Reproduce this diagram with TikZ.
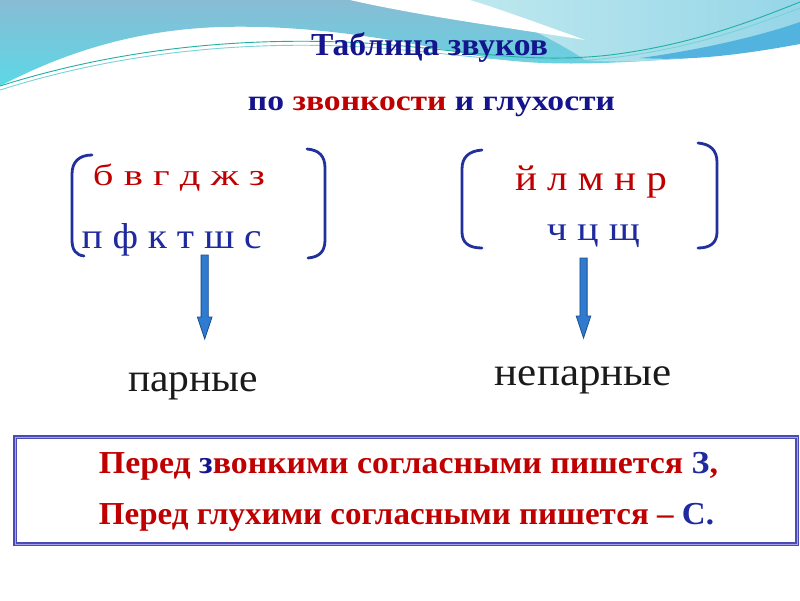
\documentclass[tikz,border=0pt]{standalone}
\usepackage{fontspec}
\setmainfont{Liberation Serif}
\usepackage{graphicx}
\usetikzlibrary{calc}
\definecolor{navy}{HTML}{14148C}
\definecolor{rred}{HTML}{C00000}
\definecolor{lblue}{HTML}{1E2A9E}
\definecolor{brkblue}{HTML}{21309C}
\definecolor{txtgray}{HTML}{1A1A1A}
\definecolor{arrfill}{HTML}{2F7BCF}
\definecolor{arrline}{HTML}{1B4F91}
\definecolor{boxline}{HTML}{4B4BB4}
\definecolor{boxinner}{HTML}{A4A4E8}
\definecolor{wavetop}{RGB}{136,188,212}
\definecolor{wavebot}{RGB}{92,216,230}
\definecolor{waveltl}{RGB}{190,232,238}
\definecolor{waveltr}{RGB}{150,214,232}
\definecolor{waveband}{RGB}{82,180,222}
\definecolor{lineA}{RGB}{32,176,160}
\definecolor{lineB}{RGB}{120,210,215}
\newcommand\fw[2]{\resizebox{#1}{\height}{#2}}
\newcommand\fs[1]{\fontsize{#1}{#1}\selectfont}
\newcommand\blockarr[2]{%
  \filldraw[barrow] let \p1=(#1), \p2=(#2) in
   (\x1-3.6pt,\y1) -- (\x1+3.6pt,\y1) -- (\x1+3.6pt,\y2+22pt) -- (\x1+7.3pt,\y2+22pt)
   -- (\x2,\y2) -- (\x1-7.3pt,\y2+22pt) -- (\x1-3.6pt,\y2+22pt) -- cycle;}
\begin{document}
\begin{tikzpicture}[x=1pt,y=-1pt,
  txt/.style={inner sep=0pt, anchor=base},
  brk/.style={draw=brkblue, line width=2.8pt, line cap=round},
  barrow/.style={fill=arrfill, draw=arrline, line width=0.8pt, line join=miter},
  rulebox/.style={draw=boxline, line width=1.2pt, double=boxinner, double distance=0.9pt,
    fill=white, minimum width=782pt, minimum height=107pt, inner sep=0pt}]
\useasboundingbox (0,0) rectangle (800,600);
\fill[white] (0,0) rectangle (800,600);
% top background wave
\shade[top color=wavetop, bottom color=wavebot]
  (0,0) -- (800,0) -- (800,42) .. controls (740,52) and (700,58) .. (660,60)
  .. controls (600,64) and (540,66) .. (490,58)
  .. controls (420,46) and (330,24) .. (220,27) .. controls (130,30) and (60,55) .. (0,86) -- cycle;
\shade[left color=waveltl, right color=waveltr]
  (470,0) -- (800,0) -- (800,42) .. controls (740,52) and (700,58) .. (660,60)
  .. controls (630,62) and (600,62) .. (585,60)
  .. controls (560,42) and (500,14) .. (470,0) -- cycle;
\fill[white] (350,0) .. controls (420,16) and (510,28) .. (585,40)
  .. controls (530,20) and (490,6) .. (470,0) -- cycle;
\fill[waveband] (640,58) .. controls (700,50) and (760,36) .. (800,22)
  -- (800,44) .. controls (740,55) and (690,61) .. (640,58) -- cycle;
\draw[lineA, line width=0.9pt]
  (0,86) .. controls (120,48) and (250,35) .. (380,44) .. controls (470,51) and (530,64) .. (610,55)
  .. controls (690,45) and (750,22) .. (800,2);
\draw[lineB, line width=0.9pt]
  (0,90) .. controls (120,52) and (250,39) .. (380,48) .. controls (470,55) and (530,67) .. (610,58)
  .. controls (690,49) and (750,27) .. (800,8);
% titles
\node[txt, text=navy] (title) at (429.5,55) {\fw{237pt}{\fs{32}\bfseries Таблица звуков}};
\node[txt, text=navy] (sub) at (431.5,110) {\fw{367pt}{\fs{29}\bfseries по \textcolor{rred}{звонкости} и глухости}};
% brackets
\draw[brk] (92,155) .. controls (79,155) and (72,162) .. (72,174) -- (72,240) .. controls (72,250) and (76,255) .. (84,256);
\draw[brk] (307,149) .. controls (319,150) and (325,156) .. (325,168) -- (325,240) .. controls (325,252) and (319,257) .. (308,258);
\draw[brk] (482,150) .. controls (469,151) and (462,157) .. (462,169) -- (462,232) .. controls (462,243) and (469,248) .. (482,248);
\draw[brk] (698,143) .. controls (710,144) and (717,150) .. (717,162) -- (717,232) .. controls (717,243) and (710,248) .. (698,248);
% letters
\node[txt, text=rred] (vz) at (179,185) {\fw{172pt}{\fs{30}б в г д ж з}};
\node[txt, text=lblue] (gl) at (171.7,248) {\fw{180pt}{\fs{36}п ф к т ш с}};
\node[txt, text=rred] (son) at (591,190) {\fw{152pt}{\fs{36}й л м н р}};
\node[txt, text=lblue] (np) at (593.3,240) {\fw{93pt}{\fs{34}ч ц щ}};
% arrows
\coordinate (la1) at (204.7,255);
\coordinate (la2) at (204.7,339);
\coordinate (ra1) at (583.5,258);
\coordinate (ra2) at (583.5,338);
\blockarr{la1}{la2}
\blockarr{ra1}{ra2}
\node[txt, text=txtgray] (par) at (193.3,391.7) {\fw{130pt}{\fs{40}парные}};
\node[txt, text=txtgray] (nepar) at (583.3,385) {\fw{176.7pt}{\fs{40}непарные}};
% rule box
\node[rulebox] (box) at (406,490.5) {};
\node[txt, text=rred] (r1) at (408.5,473.3) {\fw{619pt}{\fs{32}\bfseries Перед \textcolor{navy}{з}вонкими согласными пишется \textcolor{lblue}{З},}};
\node[txt, text=rred] (r2) at (406.5,524) {\fw{615pt}{\fs{32}\bfseries Перед глухими согласными пишется – \textcolor{lblue}{С.}}};
\end{tikzpicture}
\end{document}
